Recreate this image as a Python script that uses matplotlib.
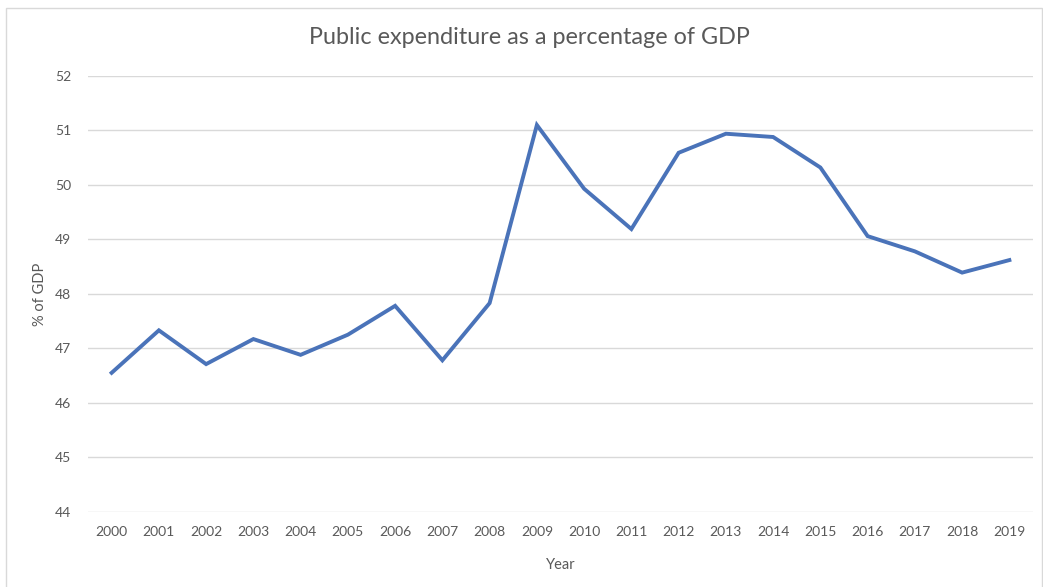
import matplotlib
matplotlib.use("Agg")
import matplotlib.pyplot as plt
from matplotlib.patches import Rectangle

# public spending as share of GDP, 2000-2019
years = [str(y) for y in range(2000, 2020)]
spending = [46.55, 47.33, 46.71, 47.17, 46.88, 47.25, 47.78, 46.78, 47.83, 51.10,
            49.93, 49.19, 50.59, 50.94, 50.88, 50.32, 49.06, 48.78, 48.39, 48.62]
y_ticks = [44, 45, 46, 47, 48, 49, 50, 51, 52]

plt.rcParams['font.family'] = ['Lato', 'DejaVu Sans']
grey_text = '#595959'

fig = plt.figure(figsize=(10.43, 5.87), dpi=100)
ax = fig.add_axes([88 / 1043, 1 - 511.7 / 587, (1033 - 88) / 1043, (511.7 - 76) / 587])

ax.plot(range(len(years)), spending, color='#4a73b9', linewidth=2.8, solid_joinstyle='miter')

ax.set_xlim(-0.5, len(years) - 0.5)
ax.set_ylim(44, 52)
ax.set_xticks(range(len(years)))
ax.set_xticklabels(years)
ax.set_yticks(y_ticks)
ax.grid(axis='y', color='#d9d9d9', linewidth=1)
ax.set_axisbelow(True)
for s in ax.spines.values():
    s.set_visible(False)
ax.tick_params(length=0, labelsize=10, labelcolor=grey_text)
ax.tick_params(axis='x', pad=10)
ax.tick_params(axis='y', pad=12)

ax.set_xlabel('Year', fontsize=10.5, color=grey_text, labelpad=15)
fig.text(40 / 1043, 1 - 294 / 587, '% of GDP', rotation=90, fontsize=10.5,
         color=grey_text, ha='center', va='center')
fig.text(529.5 / 1043, 1 - 38 / 587, 'Public expenditure as a percentage of GDP',
         fontsize=16.8, color=grey_text, ha='center', va='center')

# chart frame
fig.patches.append(Rectangle((6 / 1043, -0.01), 1036 / 1043, 1 - 8 / 587 + 0.01,
                             transform=fig.transFigure, fill=False,
                             edgecolor='#d9d9d9', linewidth=1))

fig.savefig('out.png', dpi=100)
